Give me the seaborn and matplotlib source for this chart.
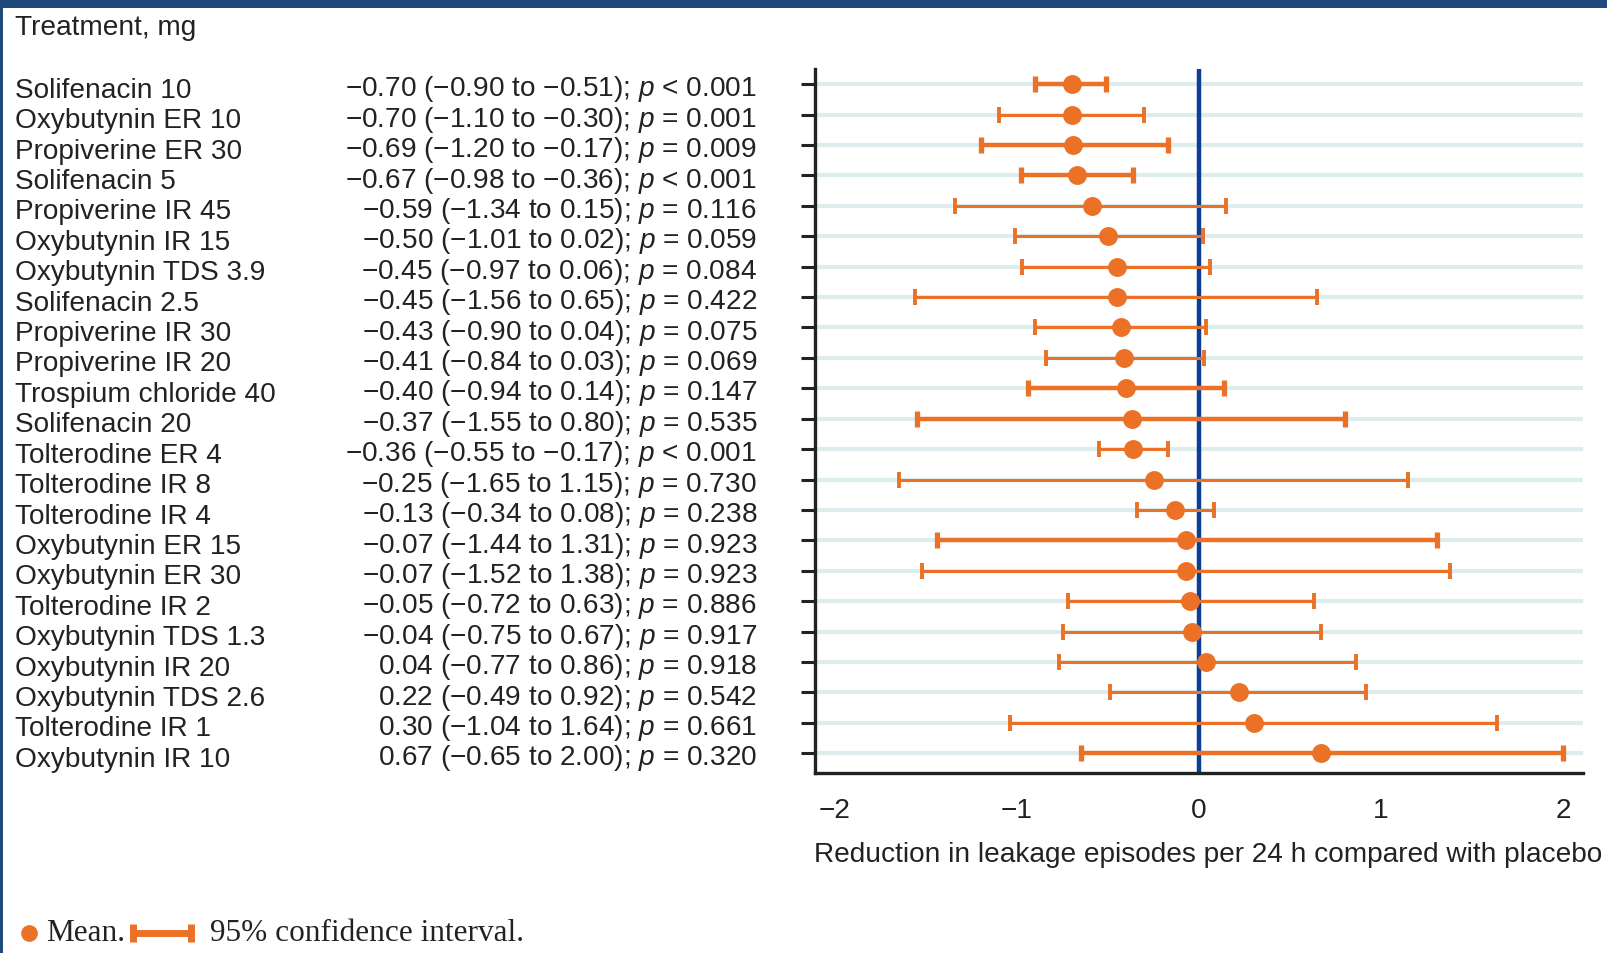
import numpy as np
import pandas as pd
import matplotlib
matplotlib.use("Agg")
import matplotlib.pyplot as plt
import matplotlib.transforms as mtransforms
from matplotlib.patches import Rectangle
from matplotlib.lines import Line2D
import seaborn as sns

# ---- data -------------------------------------------------------------
treatments = [
    "Solifenacin 10", "Oxybutynin ER 10", "Propiverine ER 30", "Solifenacin 5",
    "Propiverine IR 45", "Oxybutynin IR 15", "Oxybutynin TDS 3.9", "Solifenacin 2.5",
    "Propiverine IR 30", "Propiverine IR 20", "Trospium chloride 40", "Solifenacin 20",
    "Tolterodine ER 4", "Tolterodine IR 8", "Tolterodine IR 4", "Oxybutynin ER 15",
    "Oxybutynin ER 30", "Tolterodine IR 2", "Oxybutynin TDS 1.3", "Oxybutynin IR 20",
    "Oxybutynin TDS 2.6", "Tolterodine IR 1", "Oxybutynin IR 10",
]
means = [-0.70, -0.70, -0.69, -0.67, -0.59, -0.50, -0.45, -0.45, -0.43, -0.41, -0.40, -0.37,
         -0.36, -0.25, -0.13, -0.07, -0.07, -0.05, -0.04, 0.04, 0.22, 0.30, 0.67]
ci_low = [-0.90, -1.10, -1.20, -0.98, -1.34, -1.01, -0.97, -1.56, -0.90, -0.84, -0.94, -1.55,
          -0.55, -1.65, -0.34, -1.44, -1.52, -0.72, -0.75, -0.77, -0.49, -1.04, -0.65]
ci_high = [-0.51, -0.30, -0.17, -0.36, 0.15, 0.02, 0.06, 0.65, 0.04, 0.03, 0.14, 0.80,
           -0.17, 1.15, 0.08, 1.31, 1.38, 0.63, 0.67, 0.86, 0.92, 1.64, 2.00]
p_values = ["< 0.001", "= 0.001", "= 0.009", "< 0.001", "= 0.116", "= 0.059", "= 0.084",
            "= 0.422", "= 0.075", "= 0.069", "= 0.147", "= 0.535", "< 0.001", "= 0.730",
            "= 0.238", "= 0.923", "= 0.923", "= 0.886", "= 0.917", "= 0.918", "= 0.542",
            "= 0.661", "= 0.320"]
x_ticks = [-2, -1, 0, 1, 2]

# heavier strokes for some of the intervals
heavy_rows = {0, 2, 3, 10, 11, 15, 22}

# ---- style ------------------------------------------------------------
ORANGE = "#EA7126"
BLUE = "#0B3E96"
GRID = "#DDEDED"
FRAME = "#1F4A7C"
TEXT = "#222222"
FS = 20.2

sns.set_theme(style="white")
plt.rcParams["font.family"] = ["Liberation Sans", "DejaVu Sans"]
plt.rcParams["mathtext.fontset"] = "custom"
plt.rcParams["mathtext.rm"] = "Liberation Sans"
plt.rcParams["mathtext.it"] = "Liberation Sans:italic"
plt.rcParams["axes.unicode_minus"] = True

df = pd.DataFrame({
    "treatment": treatments,
    "mean": means,
    "lo": ci_low,
    "hi": ci_high,
    "p": p_values,
})
df["row"] = np.arange(len(df))

W, H = 1607, 954
fig = plt.figure(figsize=(W / 100, H / 100), dpi=100)
fig.patch.set_facecolor("white")

ax_l, ax_r, ax_top, ax_bot = 815, 1583, 70, 774
ax = fig.add_axes([ax_l / W, 1 - ax_bot / H, (ax_r - ax_l) / W, (ax_bot - ax_top) / H])
ax.set_facecolor("white")

n = len(df)
ax.set_xlim(-2.11, 2.11)
ax.set_ylim(n - 1 + 0.65, -0.5)

# row guide lines
for r in df["row"]:
    ax.axhline(r, color=GRID, lw=3, zorder=0)

# reference line at zero
ax.axvline(0, color=BLUE, lw=3.2, zorder=2)

# confidence intervals
for r, m, lo, hi in zip(df["row"], df["mean"], df["lo"], df["hi"]):
    lw = 3.2 if r in heavy_rows else 2.2
    ax.errorbar(m, r, xerr=[[m - lo], [hi - m]], fmt="none", ecolor=ORANGE,
                elinewidth=lw, capsize=6, capthick=lw + 0.6, zorder=3)

# point estimates
sns.scatterplot(data=df, x="mean", y="row", ax=ax, color=ORANGE, s=185,
                edgecolor=ORANGE, linewidth=0, zorder=4, legend=False)

ax.set_xticks(x_ticks)
ax.set_xticklabels([f"{t:d}".replace("-", "\u2212") for t in x_ticks])
ax.set_yticks(df["row"])
ax.set_yticklabels([])
ax.tick_params(axis="x", length=10, width=2.2, pad=7, labelsize=FS, colors=TEXT, direction="out")
ax.tick_params(axis="y", length=10, width=2.2, direction="out", colors=TEXT, left=True)
for s in ("top", "right"):
    ax.spines[s].set_visible(False)
for s in ("left", "bottom"):
    ax.spines[s].set_color(TEXT)
    ax.spines[s].set_linewidth(2.4)

ax.set_xlabel("Reduction in leakage episodes per 24 h compared with placebo",
              fontsize=FS, color=TEXT)
ax.xaxis.set_label_coords(0.512, -0.096)
ax.set_ylabel("")

# left-hand text columns (figure x, data y)
trans = mtransforms.blended_transform_factory(fig.transFigure, ax.transData)
name_shift = mtransforms.ScaledTranslation(0, -4 / 72, fig.dpi_scale_trans)
stat_shift = mtransforms.ScaledTranslation(0, -3 / 72, fig.dpi_scale_trans)


def fmt(v):
    s = f"{abs(v):.2f}"
    return ("\u2212" + s) if v < 0 else s


for r, name, m, lo, hi, p in zip(df["row"], df["treatment"], df["mean"], df["lo"],
                                 df["hi"], df["p"]):
    ax.text(15 / W, r, name, transform=trans + name_shift, ha="left", va="center",
            fontsize=FS, color=TEXT, clip_on=False)
    stat = f"{fmt(m)} ({fmt(lo)} to {fmt(hi)}); $p$ {p}"
    ax.text(757 / W, r, stat, transform=trans + stat_shift, ha="right", va="center",
            fontsize=FS, color=TEXT, clip_on=False)

fig.text(15 / W, 1 - 28 / H, "Treatment, mg", ha="left", va="center",
         fontsize=FS, color=TEXT)

# key at the bottom
ky = 1 - 934 / H
serif = ["Liberation Serif", "DejaVu Serif"]
fig.add_artist(Line2D([29 / W], [ky], marker="o", markersize=11, color=ORANGE,
                      linestyle="none", transform=fig.transFigure))
fig.text(46 / W, ky, "Mean.", ha="left", va="center", fontsize=22.5,
         family=serif, color=TEXT)
fig.add_artist(Line2D([133 / W, 191 / W], [ky, ky], color=ORANGE, lw=5,
                      transform=fig.transFigure, solid_capstyle="butt"))
for bx in (133, 191):
    fig.add_artist(Line2D([bx / W, bx / W], [ky - 9 / H, ky + 9 / H], color=ORANGE, lw=5,
                          transform=fig.transFigure, solid_capstyle="butt"))
fig.text(210 / W, ky, "95% confidence interval.", ha="left", va="center", fontsize=22.5,
         family=serif, color=TEXT)

# page frame
fig.add_artist(Rectangle((0, 1 - 9 / H), 1, 9 / H, transform=fig.transFigure,
                         color=FRAME, lw=0, zorder=10))
fig.add_artist(Rectangle((0, 0), 3 / W, 1, transform=fig.transFigure,
                         color=FRAME, lw=0, zorder=10))

fig.savefig("out.png", dpi=100, facecolor="white")
